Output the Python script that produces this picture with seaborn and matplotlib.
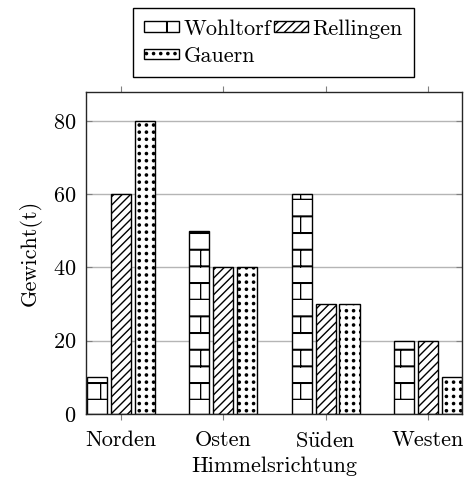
import warnings
import numpy as np
import pandas as pd
import matplotlib
matplotlib.use("Agg")
import matplotlib.pyplot as plt
from matplotlib import hatch as mhatch
from matplotlib.path import Path
import seaborn as sns

warnings.filterwarnings("ignore")

# Daten
richtungen = ["Norden", "Osten", "Süden", "Westen"]
labels_x = ["Norden", "Osten", r"S$\ddot{\mathrm{u}}$den", "Westen"]
orte = ["Wohltorf", "Rellingen", "Gauern"]
wohltorf = [10, 50, 60, 20]
rellingen = [60, 40, 30, 20]
gauern = [80, 40, 30, 10]
muster = ["b", "////", "d"]


# Ziegel-Muster (wie pgfplots "bricks"), Linien doppelt für dickeren Strich
class BrickHatch(mhatch.HatchPatternBase):
    dd = [0.0, 0.006]

    def __init__(self, hatch, density):
        self.num_rows = int(hatch.count("b") * density / 2)
        self.num_vertices = (4 * self.num_rows + 4 * self.num_rows ** 2) * len(self.dd)

    def set_vertices_and_codes(self, vertices, codes):
        n = self.num_rows
        p = 1.0 / n
        pts = []
        for d in self.dd:
            for k in range(2 * n):
                y = k * p / 2 + d
                pts += [(0.0, y), (1.0, y)]
            for r in range(n):
                for c in range(n):
                    pts += [(c * p + d, r * p), (c * p + d, r * p + p / 2)]
                    pts += [(c * p + p / 2 + d, r * p + p / 2),
                            (c * p + p / 2 + d, (r + 1) * p)]
        vertices[:] = np.array(pts)
        codes[0::2] = Path.MOVETO
        codes[1::2] = Path.LINETO


# Punkt-Raster ohne Versatz (wie pgfplots "dots")
class DotHatch(mhatch.HatchPatternBase):
    circle = Path.unit_circle()

    def __init__(self, hatch, density):
        self.num_rows = int(hatch.count("d") * density * 7 / 3)
        self.num_vertices = self.num_rows ** 2 * len(self.circle.vertices)

    def set_vertices_and_codes(self, vertices, codes):
        n = self.num_rows
        p = 1.0 / n
        cv = self.circle.vertices * 0.011
        m = len(cv)
        i = 0
        for r in range(n):
            for c in range(n):
                vertices[i:i + m] = cv + ((c + 0.5) * p, (r + 0.5) * p)
                codes[i:i + m] = self.circle.codes
                i += m


mhatch._hatch_types.append(BrickHatch)
mhatch._hatch_types.append(DotHatch)

df = pd.DataFrame({
    "Richtung": richtungen * 3,
    "Ort": [o for o in orte for _ in richtungen],
    "Gewicht": wohltorf + rellingen + gauern,
})

plt.rcParams["font.family"] = ["cmr10", "DejaVu Serif"]
plt.rcParams["mathtext.fontset"] = "cm"
plt.rcParams["axes.formatter.use_mathtext"] = True
plt.rcParams["hatch.linewidth"] = 1.0

fig = plt.figure(figsize=(4.7, 4.87), dpi=100)
ax = fig.add_axes([0.183, 0.150, 0.8, 0.662])

sns.barplot(data=df, x="Richtung", y="Gewicht", hue="Ort", order=richtungen,
            hue_order=orte, palette=["white"] * 3, edgecolor="black",
            linewidth=1, width=0.7, gap=0.16, legend=False, ax=ax)

for cont, h in zip(ax.containers, muster):
    for bar in cont:
        bar.set_hatch(h)

ax.set_ylim(0, 88)
ax.set_xlim(-0.342, 3.333)
ax.set_yticks([0, 20, 40, 60, 80])
ax.set_xticks(range(len(richtungen)))
ax.set_xticklabels(labels_x)
ax.yaxis.grid(True, color="#b5b5b5", linewidth=1)
ax.set_axisbelow(True)
ax.tick_params(axis="y", direction="in", left=True, right=True, length=4,
               color="0.5", labelsize=16, pad=7)
ax.tick_params(axis="x", direction="out", bottom=True, top=True, length=4,
               color="0.5", labelsize=16, pad=8)
for s in ax.spines.values():
    s.set_color("0.15")
    s.set_linewidth(1)

ax.set_xlabel("Himmelsrichtung", fontsize=16, labelpad=4)
ax.set_ylabel("Gewicht(t)", fontsize=16, labelpad=8)

hs = ax.containers
fig.legend([hs[0], hs[2], hs[1]], [orte[0], orte[2], orte[1]],
           loc="upper center", ncol=2,
           bbox_to_anchor=(0.582, 1 - 8 / 487), fontsize=16, frameon=True,
           fancybox=False, edgecolor="black", framealpha=1,
           handlelength=1.55, handleheight=0.35, handletextpad=0.2,
           columnspacing=0.12, borderpad=0.5, labelspacing=0.35,
           borderaxespad=0)

fig.savefig("out.png", dpi=100)
